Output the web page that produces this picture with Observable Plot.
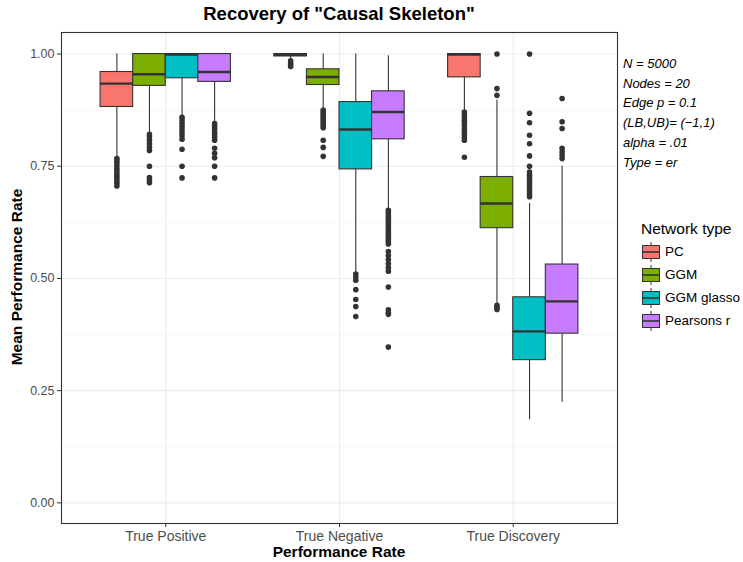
<!DOCTYPE html>
<html>
<head>
<meta charset="utf-8">
<script src="https://cdn.jsdelivr.net/npm/d3@7"></script>
<script src="https://cdn.jsdelivr.net/npm/@observablehq/plot@0.6"></script>
<style>
  html, body { margin: 0; padding: 0; background: #fff; }
  #wrap { position: relative; width: 743px; height: 562px; font-family: "Liberation Sans", Arial, Helvetica, sans-serif; }
  #wrap svg { position: absolute; left: 0; top: 0; }
  #wrap [aria-label^="y-axis"] text { fill: #4d4d4d; font-size: 12.5px; }
  #wrap [aria-label^="x-axis"] text { fill: #4d4d4d; font-size: 14px; }
  .abs { position: absolute; white-space: nowrap; color: #000; }
  .title { font-weight: bold; font-size: 18.5px; }
  .axtitle { font-weight: bold; font-size: 15.5px; }
  .note { font-style: italic; font-size: 13px; }
  .legtitle { font-size: 15.5px; }
  .leglab { font-size: 13.5px; }
</style>
</head>
<body>
<div id="wrap"></div>
<script>
// ---- data ----
const categories = ["True Positive", "True Negative", "True Discovery"];
const networkTypes = ["PC", "GGM", "GGM glasso", "Pearsons r"];
const typeColors = ["#F8766D", "#7CAE00", "#00BFC4", "#C77CFF"];
const yTicks = [0, 0.25, 0.5, 0.75, 1];

// [category][network type]
const whiskerLow = [[0.770, 0.824, 0.862, 0.849], [0.990, 0.880, 0.514, 0.656], [0.873, 0.444, 0.185, 0.224]];
const q1 = [[0.882, 0.929, 0.946, 0.938], [0.995, 0.931, 0.743, 0.810], [0.948, 0.612, 0.318, 0.377]];
const median = [[0.934, 0.955, 0.999, 0.960], [0.998, 0.949, 0.832, 0.871], [0.999, 0.667, 0.382, 0.449]];
const q3 = [[0.960, 1.000, 1.000, 1.000], [1.000, 0.966, 0.893, 0.917], [1.000, 0.726, 0.458, 0.531]];
const whiskerHigh = [[1.000, 1.000, 1.000, 1.000], [1.000, 1.000, 1.000, 0.996], [1.000, 0.897, 0.667, 0.750]];

const outliers = [
  [
    [0.767, 0.762, 0.757, 0.751, 0.745, 0.740, 0.734, 0.728, 0.723, 0.717, 0.712, 0.706],
    [0.821, 0.815, 0.808, 0.800, 0.792, 0.785, 0.750, 0.725, 0.719, 0.713],
    [0.859, 0.853, 0.846, 0.839, 0.832, 0.825, 0.818, 0.810, 0.788, 0.750, 0.724],
    [0.845, 0.839, 0.833, 0.826, 0.820, 0.814, 0.808, 0.790, 0.779, 0.769, 0.750, 0.724]
  ],
  [
    [0.985, 0.980, 0.976, 0.972],
    [0.875, 0.870, 0.865, 0.860, 0.855, 0.850, 0.845, 0.840, 0.836, 0.808, 0.792, 0.772],
    [0.510, 0.503, 0.496, 0.475, 0.453, 0.4375, 0.415],
    [0.652, 0.647, 0.642, 0.637, 0.632, 0.627, 0.622, 0.617, 0.612, 0.607, 0.602, 0.597, 0.592, 0.587, 0.582, 0.577,
     0.560, 0.551, 0.542, 0.533, 0.524, 0.516, 0.481, 0.430, 0.424, 0.420, 0.347]
  ],
  [
    [0.871, 0.865, 0.859, 0.852, 0.846, 0.840, 0.833, 0.827, 0.821, 0.814, 0.808, 0.770],
    [1.000, 0.923, 0.908, 0.440, 0.435, 0.431],
    [1.000, 0.868, 0.847, 0.819, 0.800, 0.773, 0.750, 0.737, 0.730, 0.724, 0.718, 0.712, 0.706, 0.700, 0.694, 0.688, 0.682],
    [0.901, 0.849, 0.834, 0.790, 0.782, 0.775, 0.767]
  ]
];

const notes = ["N = 5000", "Nodes = 20", "Edge p = 0.1", "(LB,UB)= (\u22121,1)", "alpha = .01", "Type = er"];

// ---- build tables ----
const dodge = 0.75 / networkTypes.length;
const boxes = [];
const outlierRows = [];
categories.forEach((c, i) => {
  networkTypes.forEach((t, j) => {
    const pos = i + 1 + (j - (networkTypes.length - 1) / 2) * dodge;
    boxes.push({
      cat: c, type: t, pos, x1: pos - dodge / 2, x2: pos + dodge / 2,
      lo: whiskerLow[i][j], q1: q1[i][j], med: median[i][j], q3: q3[i][j], hi: whiskerHigh[i][j]
    });
    outlierRows.push(...outliers[i][j].map(v => ({ cat: c, type: t, pos, v })));
  });
});
const minorTicks = yTicks.slice(0, -1).map((d, k) => (d + yTicks[k + 1]) / 2);

const W = 743, H = 562;
const chart = Plot.plot({
  width: W, height: H,
  marginLeft: 61, marginRight: 126, marginTop: 32, marginBottom: 39,
  style: { fontFamily: '"Liberation Sans", Arial, sans-serif', color: "#333", background: "transparent" },
  x: { type: "linear", domain: [0.4, 3.6], ticks: [1, 2, 3], tickFormat: d => categories[d - 1], tickSize: 4, tickPadding: 4, label: null },
  y: { domain: [-0.046, 1.048], ticks: yTicks, tickFormat: d3.format(".2f"), tickSize: 4, tickPadding: 3, label: null },
  color: { domain: networkTypes, range: typeColors },
  marks: [
    Plot.ruleY(minorTicks, { stroke: "#f2f2f2", strokeWidth: 0.6 }),
    Plot.ruleY(yTicks, { stroke: "#ebebeb", strokeWidth: 1.1 }),
    Plot.ruleX([1, 2, 3], { stroke: "#ebebeb", strokeWidth: 1.1 }),
    Plot.ruleX(boxes, { x: "pos", y1: "lo", y2: "q1", stroke: "#333", strokeWidth: 1.1 }),
    Plot.ruleX(boxes, { x: "pos", y1: "q3", y2: "hi", stroke: "#333", strokeWidth: 1.1 }),
    Plot.rect(boxes, { x1: "x1", x2: "x2", y1: "q1", y2: "q3", fill: "type", stroke: "#333", strokeWidth: 1.1 }),
    Plot.ruleY(boxes, { y: "med", x1: "x1", x2: "x2", stroke: "#333", strokeWidth: 2.4 }),
    Plot.dot(outlierRows, { x: "pos", y: "v", r: 2.8, fill: "#333", stroke: "none" }),
    Plot.frame({ stroke: "#333", strokeWidth: 1.1 })
  ]
});

const wrap = document.getElementById("wrap");
wrap.appendChild(chart);

function addText(txt, cls, css) {
  const d = document.createElement("div");
  d.className = "abs " + cls;
  d.textContent = txt;
  Object.assign(d.style, css);
  wrap.appendChild(d);
  return d;
}
const panelCx = (61 + (W - 126)) / 2;
addText('Recovery of "Causal Skeleton"', "title", { left: panelCx + "px", top: "3px", transform: "translateX(-50%)" });
addText("Performance Rate", "axtitle", { left: panelCx + "px", top: "543px", transform: "translateX(-50%)" });
addText("Mean Performance Rate", "axtitle", { left: "17px", top: "277px", transform: "translate(-50%,-50%) rotate(-90deg)" });

notes.forEach((n, k) => addText(n, "note", { left: "623px", top: (56 + k * 19.7) + "px" }));

// legend
addText("Network type", "legtitle", { left: "641px", top: "220px" });
networkTypes.forEach((t, k) => {
  const cy = 252 + k * 23;
  const ns = "http://www.w3.org/2000/svg";
  const s = document.createElementNS(ns, "svg");
  s.setAttribute("width", 20); s.setAttribute("height", 22);
  s.style.position = "absolute"; s.style.left = "641px"; s.style.top = (cy - 11) + "px";
  s.innerHTML = `<line x1="10" x2="10" y1="1" y2="21" stroke="#333" stroke-width="1"/>
    <rect x="1.5" y="4.5" width="17" height="13" fill="${typeColors[k]}" stroke="#333" stroke-width="1"/>
    <line x1="1.5" x2="18.5" y1="11" y2="11" stroke="#333" stroke-width="1.6"/>`;
  wrap.appendChild(s);
  addText(t, "leglab", { left: "665px", top: (cy - 8.5) + "px" });
});
</script>
</body>
</html>
